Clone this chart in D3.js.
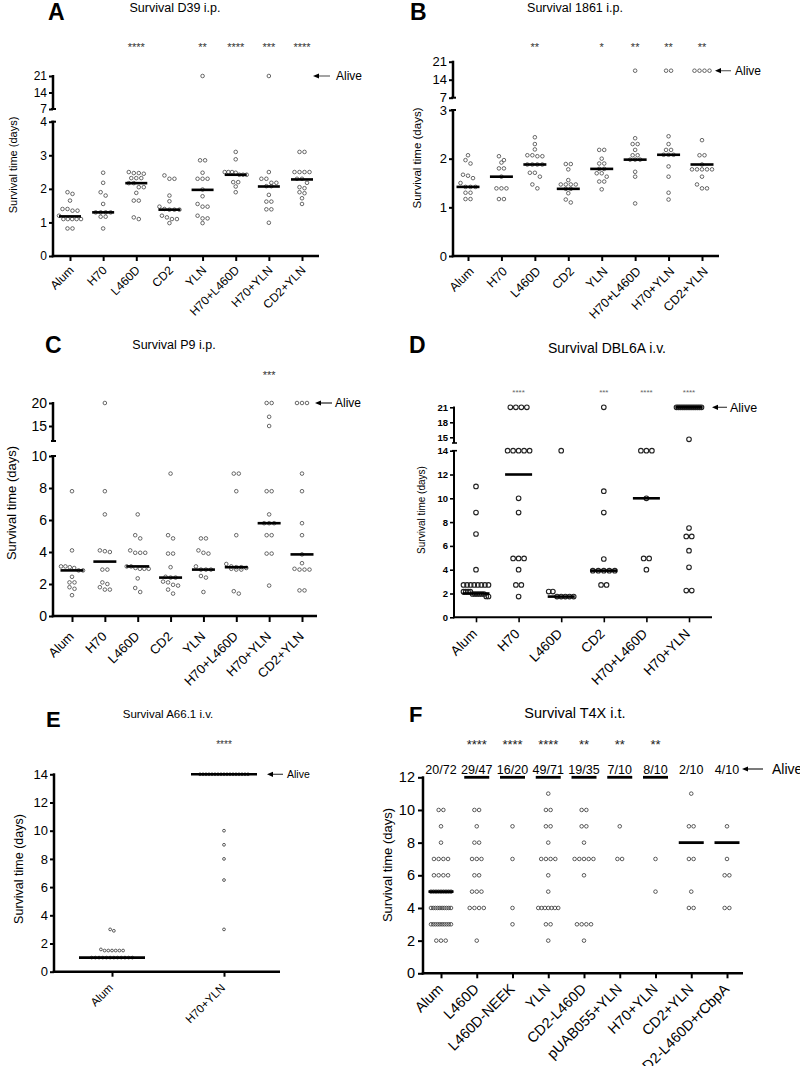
<!DOCTYPE html>
<html><head><meta charset="utf-8">
<script src="https://cdn.jsdelivr.net/npm/d3@7"></script>
<style>body{margin:0;background:#fff} svg{display:block} text{font-family:"Liberation Sans",Arial,sans-serif;fill:#000}</style>
</head><body>
<svg id="c" width="800" height="1066"></svg>
<script>
// ---------- DATA ----------
const catsA = ["Alum","H70","L460D","CD2","YLN","H70+L460D","H70+YLN","CD2+YLN"];
const valsA = [
  [1.9,1.85,1.65,1.4,1.4,1.35,1.35,1.2,1.1,1.1,1.1,1.1,1.1,0.82,0.82],
  [2.48,2.18,1.9,1.8,1.55,1.3,1.3,1.3,1.3,1.17,1.17,0.82],
  [2.5,2.47,2.47,2.45,2.32,2.32,2.32,2.17,2.17,2.05,2.05,1.88,1.65,1.65,1.15,1.1],
  [2.4,2.3,2.3,1.8,1.63,1.47,1.4,1.38,1.38,1.38,1.2,1.15,1.1,1.1,0.98],
  [21,2.85,2.85,2.48,2.3,2.3,2.3,1.98,1.78,1.55,1.47,1.47,1.2,1.12,1.12,0.98],
  [3.1,2.88,2.5,2.5,2.5,2.48,2.42,2.42,2.42,2.2,2.2,2.07,1.9],
  [21,2.5,2.3,2.3,2.18,2.18,2.08,2.08,1.82,1.62,1.62,1.39,1.39,0.99],
  [3.1,3.1,2.5,2.5,2.5,2.5,2.3,2.3,2.18,2.05,2.02,1.9,1.87,1.72,1.55]
];
const medA = [1.18,1.3,2.17,1.38,1.97,2.42,2.07,2.28];
const starsA = ["","","****","","**","****","***","****"];
const ticksA = [0,1,2,3,4];
const ticksAUp = [7,14,21];

const catsB = ["Alum","H70","L460D","CD2","YLN","H70+L460D","H70+YLN","CD2+YLN"];
const valsB = [
  [2.07,1.97,1.9,1.67,1.65,1.6,1.5,1.42,1.42,1.42,1.3,1.3,1.17,1.17],
  [2.05,1.97,1.92,1.8,1.8,1.63,1.39,1.39,1.39,1.17,1.17],
  [2.44,2.3,2.19,2.07,2.07,2.05,2.05,1.88,1.88,1.88,1.88,1.71,1.71,1.63,1.47,1.39],
  [1.89,1.89,1.78,1.56,1.47,1.47,1.47,1.47,1.38,1.38,1.29,1.16,1.1],
  [2.18,2.18,2.0,1.9,1.9,1.79,1.79,1.7,1.7,1.63,1.53,1.53,1.37],
  [17.5,2.42,2.3,2.3,2.18,2.07,2.07,1.98,1.98,1.98,1.73,1.63,1.08],
  [17.5,17.5,2.46,2.3,2.18,2.18,2.08,2.08,2.08,1.84,1.63,1.3,1.16],
  [17.5,17.5,17.5,17.5,2.38,2.07,2.07,1.88,1.78,1.78,1.78,1.78,1.78,1.63,1.47,1.39,1.39]
];
const medB = [1.42,1.63,1.88,1.38,1.79,1.98,2.08,1.88];
const starsB = ["","","**","","*","**","**","**"];
const ticksB = [0,1,2,3];
const ticksBUp = [7,14,21];

const catsC = ["Alum","H70","L460D","CD2","YLN","H70+L460D","H70+YLN","CD2+YLN"];
const valsC = [
  [7.8,4.1,3.1,3.1,3.05,3.0,2.85,2.85,2.45,2.1,2.1,1.8,1.7,1.3],
  [20,7.8,6.35,4.1,4.05,4.0,2.9,2.9,2.1,2.0,1.8,1.65,1.65],
  [6.35,5.05,4.85,4.1,3.95,3.95,3.95,3.1,3.1,3.0,2.95,2.95,2.95,2.35,1.75,1.5],
  [8.9,5.05,4.85,3.9,3.9,3.05,2.45,2.4,2.4,2.15,2.1,1.95,1.9,1.65,1.4],
  [4.85,4.85,4.1,3.95,3.9,3.1,2.9,2.9,2.9,2.5,2.4,1.5],
  [8.9,8.9,7.8,5.05,3.25,3.1,3.05,3.05,3.0,2.95,2.9,2.9,1.55,1.4],
  [20,20,17,15,7.8,7.8,6.35,5.8,5.8,5.8,5.05,5.05,3.9,3.9,1.9],
  [20,20,20,8.9,7.8,5.8,5.05,3.85,3.3,2.95,2.9,2.9,2.9,1.6,1.6]
];
const medC = [2.85,3.4,3.1,2.4,2.9,3.05,5.8,3.85];
const starsC = ["","","","","","","***",""];
const ticksC = [0,2,4,6,8,10];
const ticksCUp = [15,20];

const catsD = ["Alum","H70","L460D","CD2","H70+L460D","H70+YLN"];
const valsD = [
  [11,8.8,7,4,2.72,2.72,2.72,2.72,2.72,2.72,2.72,2.72,2.15,2.15,2.15,2.15,1.96,1.96,1.96,1.96,1.96,1.96,1.75,1.75],
  [21,21,21,21,14,14,14,14,14,10,8.8,4.95,4.95,4.95,4,2.72,2.72,1.74],
  [14,2.16,2.16,1.74,1.74,1.74,1.74,1.74],
  [21,10.6,8.8,4.9,3.92,3.92,3.92,3.92,3.92,2.72,2.72],
  [14,14,14,10,4.95,4.95,4],
  [21,21,21,21,21,21,21,21,21,21,21,21,21,21,14.6,7.5,6.8,6.8,5.6,4.2,2.25,2.25]
];
const medD = [2.0,12,1.74,3.92,10,21];
const starsD = ["","****","","***","****","****"];
const ticksD = [0,2,4,6,8,10,12,14];
const ticksDUp = [15,18,21];

const catsE = ["Alum","H70+YLN"];
const valsE = [
  [3.0,2.9,1.58,1.5,1.5,1.5,1.5,1.5,1.5,1,1,1,1,1,1,1,1,1,1,1,1],
  [14,14,14,14,14,14,14,14,14,14,14,14,14,14,14,14,14,10,9,8,6.5,3]
];
const medE = [1.0,14];
const starsE = ["","****"];
const ticksE = [0,2,4,6,8,10,12,14];

const catsF = ["Alum","L460D","L460D-NEEK","YLN","CD2-L460D","pUAB055+YLN","H70+YLN","CD2+YLN","CD2-L460D+rCbpA"];
const valsF = [
  [10,10,9,8,7,7,7,7,6,6,6,6,5,5,5,5,5,5,5,5,5,4,4,4,4,4,4,4,4,4,4,3,3,3,3,3,3,3,3,3,3,2,2,2],
  [10,10,9,8,8,7,7,7,6,6,5,5,5,4,4,4,4,2],
  [9,7,4,3],
  [11,10,10,9,9,8,7,7,7,7,6,5,4,4,4,4,4,4,4,3,3,2],
  [10,10,9,9,8,7,7,7,7,7,6,3,3,3,3,2],
  [9,7,7],
  [7,5],
  [11,9,9,7,7,5,4,4],
  [9,7,6,6,4,4]
];
const medF = [5,12,12,12,12,12,12,8,8];
const starsF = ["","****","****","****","**","**","**","",""];
const fracF = ["20/72","29/47","16/20","49/71","19/35","7/10","8/10","2/10","4/10"];
const ticksF = [0,2,4,6,8,10,12];

// ---------- DRAW ----------
const svg = d3.select("#c");

function layoutGroup(values, cx, yf, r, sp, maxW){
  const pts = values.map(v=>({v:v, y:yf(v)})).sort((a,b)=>a.y-b.y);
  const rows = [];
  pts.forEach(p=>{
    const last = rows[rows.length-1];
    if(last && Math.abs(p.y-last[0].y) < r*2+0.6) last.push(p); else rows.push([p]);
  });
  rows.forEach(row=>{
    const n=row.length; let s=sp;
    if(n>1 && (n-1)*s>maxW) s=maxW/(n-1);
    row.forEach((p,i)=>{p.x = cx + (i-(n-1)/2)*s;});
  });
  return pts;
}

function drawPanel(o){
  const g = svg.append("g");
  const lower = d3.scaleLinear().domain(o.lowDom).range(o.lowRng);
  const upper = o.upDom ? d3.scaleLinear().domain(o.upDom).range(o.upRng) : null;
  const lowMax = o.lowDom[1];
  const y = v => (upper && v > lowMax) ? upper(v) : lower(v);
  const x = d3.scalePoint().domain(o.cats).range(o.catRange);
  const y0 = lower(0);
  const sw = o.sw;

  // x axis
  g.append("line").attr("x1",o.axisX-sw/2).attr("x2",o.xEnd).attr("y1",y0).attr("y2",y0)
    .attr("stroke","#000").attr("stroke-width",sw);
  const xa = g.append("g").attr("transform",`translate(0,${y0})`)
    .call(d3.axisBottom(x).tickSize(o.xTick).tickSizeOuter(0));
  xa.select(".domain").remove();
  xa.selectAll(".tick line").attr("stroke","#000").attr("stroke-width",sw*0.8);
  xa.selectAll(".tick text").attr("x",0).attr("y",0).attr("dy","0.35em")
    .attr("text-anchor","end").attr("fill","#000")
    .attr("transform",`translate(${o.labDx},${o.labDy}) rotate(-45)`)
    .style("font-size",o.catFs+"px").style("font-family",'"Liberation Sans",Arial,sans-serif');

  // y axis lower
  const ya = g.append("g").attr("transform",`translate(${o.axisX},0)`)
    .call(d3.axisLeft(lower).tickValues(o.lowTicks).tickSize(o.yTick).tickPadding(o.yPad).tickFormat(d3.format("d")));
  ya.select(".domain").remove();
  ya.selectAll(".tick line").attr("stroke","#000").attr("stroke-width",sw*0.8);
  ya.selectAll(".tick text").attr("fill","#000").style("font-size",o.tickFs+"px")
    .style("font-weight",o.tickBold?"bold":"normal").style("font-family",'"Liberation Sans",Arial,sans-serif');
  g.append("line").attr("x1",o.axisX).attr("x2",o.axisX).attr("y1",y0+sw/2).attr("y2",lower(lowMax)-sw*0.4)
    .attr("stroke","#000").attr("stroke-width",sw);
  if(upper){
    // cap on top of lower segment
    g.append("line").attr("x1",o.axisX-2).attr("x2",o.axisX+3).attr("y1",lower(lowMax)).attr("y2",lower(lowMax))
      .attr("stroke","#000").attr("stroke-width",sw*0.8);
    const yu = g.append("g").attr("transform",`translate(${o.axisX},0)`)
      .call(d3.axisLeft(upper).tickValues(o.upTicks).tickSize(o.yTick).tickPadding(o.yPad).tickFormat(d3.format("d")));
    yu.select(".domain").remove();
    yu.selectAll(".tick line").attr("stroke","#000").attr("stroke-width",sw*0.8);
    yu.selectAll(".tick text").attr("fill","#000").style("font-size",o.tickFs+"px")
      .style("font-weight",o.tickBold?"bold":"normal").style("font-family",'"Liberation Sans",Arial,sans-serif');
    const top = upper(o.upDom[1]);
    g.append("line").attr("x1",o.axisX).attr("x2",o.axisX).attr("y1",o.segBottom).attr("y2",top-sw*0.4)
      .attr("stroke","#000").attr("stroke-width",sw);
    g.append("line").attr("x1",o.axisX-2).attr("x2",o.axisX+3).attr("y1",o.segBottom).attr("y2",o.segBottom)
      .attr("stroke","#000").attr("stroke-width",sw*0.8);
  }

  // points
  o.cats.forEach((c,i)=>{
    const pts = layoutGroup(o.vals[i], x(c), y, o.r, o.sp, o.maxW);
    g.append("g").selectAll("circle").data(pts).join("circle")
      .attr("cx",d=>d.x).attr("cy",d=>d.y).attr("r",o.r)
      .attr("fill","none").attr("stroke",o.ptColor).attr("stroke-width",o.ptSw);
  });
  // medians
  g.append("g").selectAll("line").data(o.cats).join("line")
    .attr("x1",(c)=>x(c)-o.medW/2).attr("x2",(c)=>x(c)+o.medW/2)
    .attr("y1",(c,i)=>y(o.meds[i])).attr("y2",(c,i)=>y(o.meds[i]))
    .attr("stroke","#000").attr("stroke-width",o.medSw);

  // stars
  g.append("g").selectAll("text").data(o.cats).join("text")
    .attr("x",c=>x(c)).attr("y",o.starY).attr("text-anchor","middle")
    .style("font-size",o.starFs+"px").style("fill",o.starColor)
    .text((c,i)=>o.stars[i]);
  if(o.fracs){
    g.append("g").selectAll("text").data(o.cats).join("text")
      .attr("x",c=>x(c)).attr("y",o.fracY).attr("text-anchor","middle")
      .style("font-size",o.fracFs+"px").text((c,i)=>o.fracs[i]);
  }
  // letter & title
  g.append("text").attr("x",o.letterX).attr("y",o.letterY).text(o.letter)
    .style("font-size",o.letterFs+"px").style("font-weight","bold");
  g.append("text").attr("x",o.titleX).attr("y",o.titleY).attr("text-anchor","middle")
    .style("font-size",o.titleFs+"px").text(o.title);
  // y label
  g.append("text").attr("transform",`translate(${o.ylabX},${o.ylabY}) rotate(-90)`)
    .attr("text-anchor","middle").attr("dy","0.35em").style("font-size",o.ylabFs+"px")
    .text("Survival time (days)");
  // alive arrow
  const ay = o.aliveY !== undefined ? o.aliveY : y(o.aliveV);
  g.append("line").attr("x1",o.arrTip+4).attr("x2",o.arrEnd).attr("y1",ay).attr("y2",ay)
    .attr("stroke",o.arrColor).attr("stroke-width",1.2);
  g.append("path").attr("d",`M${o.arrTip},${ay}L${o.arrTip+6},${ay-2.6}L${o.arrTip+6},${ay+2.6}Z`)
    .attr("fill","#000");
  g.append("text").attr("x",o.aliveX).attr("y",ay).attr("dy","0.35em")
    .style("font-size",o.aliveFs+"px").text("Alive");
}

// Panel A
drawPanel({cats:catsA, vals:valsA, meds:medA, stars:starsA,
  lowDom:[0,4], lowRng:[256,121.7], lowTicks:ticksA,
  upDom:[7,21], upRng:[109,76], upTicks:ticksAUp, segBottom:109,
  catRange:[70,302], axisX:53, xEnd:319, sw:2.5, xTick:5, yTick:4, yPad:2,
  labDx:1, labDy:12, catFs:12, tickFs:12,
  r:1.8, ptSw:0.8, ptColor:"#444", sp:5, maxW:22, medW:22, medSw:2.6,
  starY:51, starFs:11, starColor:"#333",
  letter:"A", letterX:48, letterY:20, letterFs:23,
  title:"Survival D39 i.p.", titleX:175, titleY:12, titleFs:12.5,
  ylabX:13, ylabY:165, ylabFs:11,
  aliveV:21, arrTip:313, arrEnd:330, aliveX:336, aliveFs:12, arrColor:"#666"});

// Panel B
drawPanel({cats:catsB, vals:valsB, meds:medB, stars:starsB,
  lowDom:[0,3], lowRng:[256,110], lowTicks:ticksB,
  upDom:[7,21], upRng:[97.7,61.7], upTicks:ticksBUp, segBottom:97.7,
  catRange:[468,702], axisX:453, xEnd:719, sw:2.5, xTick:5, yTick:4, yPad:2,
  labDx:3, labDy:13, catFs:12.5, tickFs:13,
  r:1.8, ptSw:0.8, ptColor:"#444", sp:5, maxW:22, medW:23, medSw:2.6,
  starY:51, starFs:11, starColor:"#333",
  letter:"B", letterX:410, letterY:20, letterFs:23,
  title:"Survival 1861 i.p.", titleX:575, titleY:12, titleFs:12.5,
  ylabX:417, ylabY:158, ylabFs:11.5,
  aliveV:17.5, arrTip:715, arrEnd:731, aliveX:735, aliveFs:12, arrColor:"#666"});

// Panel C
drawPanel({cats:catsC, vals:valsC, meds:medC, stars:starsC,
  lowDom:[0,10], lowRng:[616,456], lowTicks:ticksC,
  upDom:[15,20], upRng:[426,403], upTicks:ticksCUp, segBottom:441,
  catRange:[72,302], axisX:53, xEnd:317, sw:2.5, xTick:6, yTick:4, yPad:2,
  labDx:-1, labDy:18, catFs:13, tickFs:14,
  r:1.8, ptSw:0.8, ptColor:"#444", sp:5, maxW:22, medW:23, medSw:2.6,
  starY:379, starFs:11, starColor:"#333",
  letter:"C", letterX:45, letterY:353, letterFs:23,
  title:"Survival P9 i.p.", titleX:174, titleY:349, titleFs:12.5,
  ylabX:11, ylabY:503, ylabFs:13,
  aliveV:20, arrTip:315, arrEnd:332, aliveX:335, aliveFs:12, arrColor:"#222"});

// Panel D
drawPanel({cats:catsD, vals:valsD, meds:medD, stars:starsD,
  lowDom:[0,14], lowRng:[617.3,450.7], lowTicks:ticksD,
  upDom:[15,21], upRng:[437.3,407.3], upTicks:ticksDUp, segBottom:443,
  catRange:[476,689], axisX:454, xEnd:712, sw:2, xTick:5, yTick:4, yPad:2,
  labDx:-2, labDy:14, catFs:13.5, tickFs:9.5, tickBold:true,
  r:2.3, ptSw:1.1, ptColor:"#222", sp:5.5, maxW:25, medW:27, medSw:2.6,
  starY:394.5, starFs:8, starColor:"#666",
  letter:"D", letterX:409, letterY:353, letterFs:23,
  title:"Survival DBL6A i.v.", titleX:607, titleY:353, titleFs:14,
  ylabX:421, ylabY:510, ylabFs:10,
  aliveV:21, arrTip:712, arrEnd:727, aliveX:730, aliveFs:12.5, arrColor:"#444"});

// Panel E
drawPanel({cats:catsE, vals:valsE, meds:medE, stars:starsE,
  lowDom:[0,14], lowRng:[971.7,774.3], lowTicks:ticksE,
  catRange:[112,224], axisX:54, xEnd:280, sw:2.5, xTick:5, yTick:4, yPad:2,
  labDx:-1.5, labDy:14, catFs:11.5, tickFs:13,
  r:1.4, ptSw:0.8, ptColor:"#333", sp:3.7, maxW:48, medW:66, medSw:2.6,
  starY:748, starFs:10, starColor:"#333",
  letter:"E", letterX:46, letterY:727, letterFs:22,
  title:"Survival A66.1 i.v.", titleX:168, titleY:718, titleFs:11.5,
  ylabX:19, ylabY:869, ylabFs:12.5,
  aliveV:14, arrTip:267, arrEnd:283, aliveX:287, aliveFs:10.5, arrColor:"#444"});

// Panel F
drawPanel({cats:catsF, vals:valsF, meds:medF, stars:starsF, fracs:fracF, fracY:773.5, fracFs:12.5,
  lowDom:[0,12], lowRng:[973.3,777.3], lowTicks:ticksF,
  catRange:[441,727], axisX:423, xEnd:743, sw:2.5, xTick:5, yTick:5, yPad:3,
  labDx:-1, labDy:13, catFs:14.5, tickFs:14.5,
  r:1.8, ptSw:0.8, ptColor:"#333", sp:4.7, maxW:20, medW:25, medSw:2.8,
  starY:748.5, starFs:13, starColor:"#222",
  letter:"F", letterX:409, letterY:722, letterFs:22,
  title:"Survival T4X i.t.", titleX:575, titleY:718, titleFs:14.5,
  ylabX:387, ylabY:865, ylabFs:13,
  aliveY:769, arrTip:742, arrEnd:763, aliveX:772, aliveFs:14, arrColor:"#222"});
</script>
</body></html>
